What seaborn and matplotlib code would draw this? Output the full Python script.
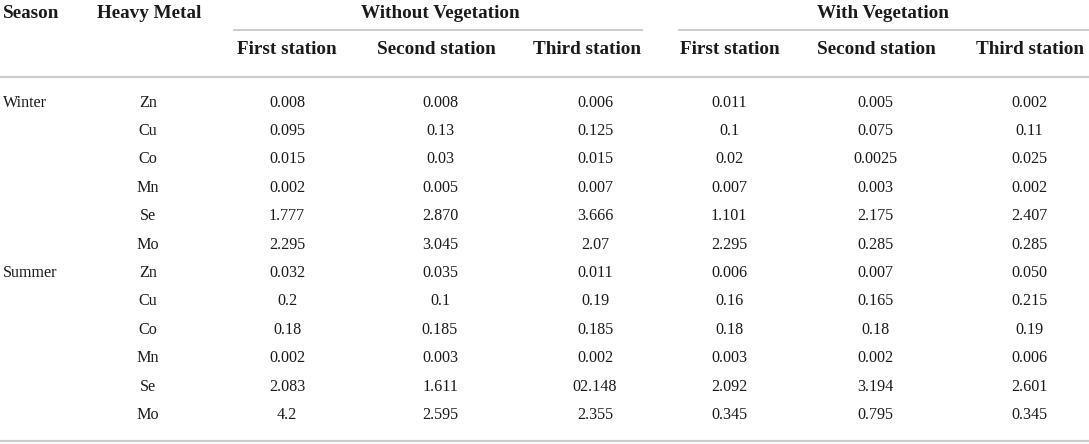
import matplotlib
matplotlib.use("Agg")
import matplotlib.pyplot as plt
import seaborn as sns

# ---- data ----
seasons = ["Winter", "Summer"]
metals = ["Zn", "Cu", "Co", "Mn", "Se", "Mo"]
groups = ["Without Vegetation", "With Vegetation"]
stations = ["First station", "Second station", "Third station"]

without_first = ["0.008", "0.095", "0.015", "0.002", "1.777", "2.295",
                 "0.032", "0.2", "0.18", "0.002", "2.083", "4.2"]
without_second = ["0.008", "0.13", "0.03", "0.005", "2.870", "3.045",
                  "0.035", "0.1", "0.185", "0.003", "1.611", "2.595"]
without_third = ["0.006", "0.125", "0.015", "0.007", "3.666", "2.07",
                 "0.011", "0.19", "0.185", "0.002", "02.148", "2.355"]
with_first = ["0.011", "0.1", "0.02", "0.007", "1.101", "2.295",
              "0.006", "0.16", "0.18", "0.003", "2.092", "0.345"]
with_second = ["0.005", "0.075", "0.0025", "0.003", "2.175", "0.285",
               "0.007", "0.165", "0.18", "0.002", "3.194", "0.795"]
with_third = ["0.002", "0.11", "0.025", "0.002", "2.407", "0.285",
              "0.050", "0.215", "0.19", "0.006", "2.601", "0.345"]

columns = [without_first, without_second, without_third,
           with_first, with_second, with_third]

# ---- layout ----
W, H = 1089, 444
sns.set_theme(style="white")
plt.rcParams["font.family"] = ["Liberation Serif", "DejaVu Serif"]

fig = plt.figure(figsize=(W / 100, H / 100), dpi=100)
ax = fig.add_axes([0, 0, 1, 1])
ax.set_xlim(0, W)
ax.set_ylim(H, 0)
ax.axis("off")

txt = "#1a1a1a"
rule = "#cccccc"
hsize = 13.8
dsize = 11.6

header_x = [287, 436, 587, 730, 876, 1030]
value_x = [287, 440, 595, 729, 875, 1029]
group_span = [(233, 643), (678, W)]
group_cx = [440, 883]

y_top = 13
y_sub = 50
y_rule = 77
y_row0 = 102.5
row_h = 28.4
y_bottom = 441

# top header
ax.text(3, y_top, "Season", ha="left", va="center", fontsize=hsize,
        fontweight="bold", color=txt)
ax.text(149, y_top, "Heavy Metal", ha="center", va="center", fontsize=hsize,
        fontweight="bold", color=txt)
for g, (x0, x1), cx in zip(groups, group_span, group_cx):
    ax.text(cx, y_top, g, ha="center", va="center", fontsize=hsize,
            fontweight="bold", color=txt)
    ax.plot([x0, x1], [30, 30], color=rule, lw=1.4, solid_capstyle="butt")

for k, hx in enumerate(header_x):
    ax.text(hx, y_sub, stations[k % 3], ha="center", va="center",
            fontsize=hsize, fontweight="bold", color=txt)

ax.plot([0, W], [y_rule, y_rule], color=rule, lw=1.6, solid_capstyle="butt")
ax.plot([0, W], [y_bottom, y_bottom], color=rule, lw=1.6, solid_capstyle="butt")

# body
n_rows = len(seasons) * len(metals)
for i in range(n_rows):
    y = y_row0 + i * row_h
    if i % len(metals) == 0:
        ax.text(3, y, seasons[i // len(metals)], ha="left", va="center",
                fontsize=dsize, color=txt)
    ax.text(148, y, metals[i % len(metals)], ha="center", va="center",
            fontsize=dsize, color=txt)
    for vx, col in zip(value_x, columns):
        ax.text(vx, y, col[i], ha="center", va="center", fontsize=dsize,
                color=txt)

fig.savefig("out.png", dpi=100, facecolor="white")
